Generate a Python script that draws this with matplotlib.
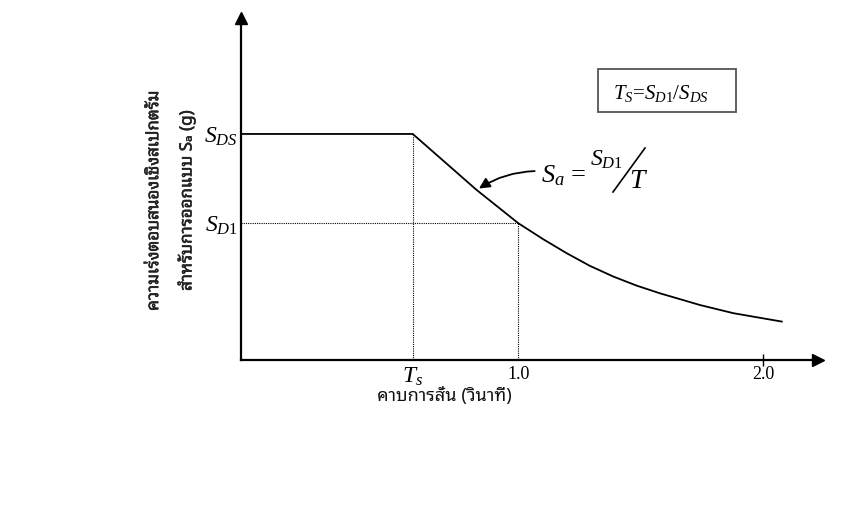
import matplotlib
matplotlib.use("Agg")
import matplotlib.pyplot as plt
import matplotlib.patheffects as pe
from matplotlib.patches import Rectangle
from matplotlib.lines import Line2D

plt.rcParams["mathtext.fontset"] = "custom"
plt.rcParams["mathtext.rm"] = "Liberation Serif"
plt.rcParams["mathtext.it"] = "Liberation Serif:italic"
plt.rcParams["font.family"] = ["Liberation Serif", "DejaVu Sans"]
THAI = ["Noto Sans Thai Looped", "DejaVu Sans"]

# values (Sa in units of SDS)
Ts = 0.569
SD1 = 0.605
SDS = 1.0
periods = [-0.132, 0.569, 0.83, 1.0, 1.102, 1.198, 1.291, 1.388, 1.483,
           1.578, 1.673, 1.742, 1.878, 2.075]
sa = [1.0, 1.0, 0.752, 0.605, 0.534, 0.472, 0.417, 0.369, 0.329,
      0.295, 0.265, 0.243, 0.207, 0.170]
x_ticks = [Ts, 1.0, 2.0]
x_tick_labels = ["$T_s$", "1.0", "2.0"]
y_ticks = [SD1, SDS]
y_tick_labels = ["$S_{D1}$", "$S_{DS}$"]

W, H = 853, 517


def fx(x):
    return x / W


def fy(y):
    return 1 - y / H


fig = plt.figure(figsize=(W / 100, H / 100), dpi=100)
ax = fig.add_axes([fx(241), fy(360), fx(818 - 241), (360 - 18) / H])
ax.set_xlim(-0.132, 2.223)
ax.set_ylim(0, 1.513)

ax.plot(periods, sa, color="black", lw=1.3, solid_joinstyle="round")

# dotted guides
dot = dict(color="black", lw=0.8, ls=(0, (1, 1)))
ax.plot([Ts, Ts], [0, SDS], **dot)
ax.plot([-0.132, 1.0], [SD1, SD1], **dot)
ax.plot([1.0, 1.0], [0, SD1], **dot)

# axes with arrow heads
for side in ["top", "right"]:
    ax.spines[side].set_visible(False)
for side in ["left", "bottom"]:
    ax.spines[side].set_linewidth(1.6)
ax.plot(1, 0, ">k", ms=9, transform=ax.get_yaxis_transform(), clip_on=False)
ax.plot(-0.132, 1, "^k", ms=9, transform=ax.get_xaxis_transform(), clip_on=False)

ax.set_xticks(x_ticks)
ax.set_xticklabels(x_tick_labels)
ax.set_yticks(y_ticks)
ax.set_yticklabels(y_tick_labels, fontsize=17)
ax.tick_params(axis="y", length=0, pad=2)
ax.tick_params(axis="x", direction="inout", length=8, width=1, pad=0)
xt = ax.xaxis.get_major_ticks()
for t in xt[:2]:
    t.tick1line.set_visible(False)
labs = ax.get_xticklabels()
labs[0].set_fontsize(17)
labs[1].set_fontsize(13)
labs[2].set_fontsize(13)

ax.set_xlabel("คาบการสั่น (วินาที)", family=THAI, fontsize=13, va="center",
              color="#111111")
ax.xaxis.set_label_coords(0.353, -0.105)
ax.set_ylabel("ความเร่งตอบสนองเชิงสเปกตรัม\nสำหรับการออกแบบ Sₐ (g)",
              family=THAI, fontsize=12.2, color="#222222", va="center",
              linespacing=1.95,
              path_effects=[pe.withStroke(linewidth=0.4, foreground="#222222")])
ax.yaxis.set_label_coords(-0.1216, 0.465)

# formula box
fig.add_artist(Rectangle((fx(598), fy(112)), fx(736 - 598), (112 - 69) / H,
                         fill=False, lw=1.3, ec="#555555"))
fig.text(fx(613), fy(93), "$T_S$=$S_{D1}$/$S_{DS}$", fontsize=15, va="center")

# curve annotation
fig.text(fx(541), fy(176), "$S_a$ =", fontsize=19, va="center")
fig.text(fx(590), fy(160), "$S_{D1}$", fontsize=17, va="center")
fig.add_artist(Line2D([fx(613), fx(645)], [fy(192), fy(148)], color="black", lw=1.2))
fig.text(fx(629), fy(182), "$T$", fontsize=20, va="center")
ax.annotate("", xy=(0.83, 0.752), xytext=(1.078, 0.836),
            arrowprops=dict(arrowstyle="-|>", color="black", lw=1.3,
                            mutation_scale=16,
                            connectionstyle="arc3,rad=0.15"))

fig.savefig("out.png")
